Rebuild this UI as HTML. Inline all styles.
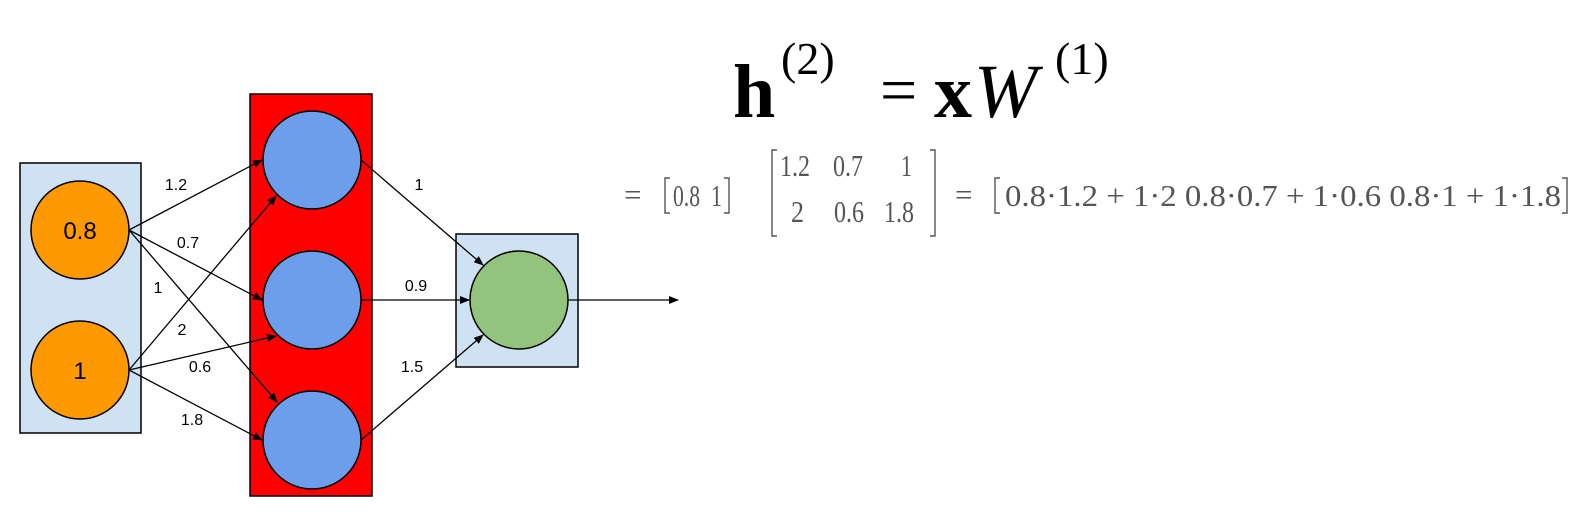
<!DOCTYPE html>
<html><head><meta charset="utf-8"><style>
html,body{margin:0;padding:0;background:#fff;width:1583px;height:520px;overflow:hidden}
svg{display:block}
.lbl{font-family:"Liberation Sans",Arial,sans-serif;font-size:16px;fill:#000}
.m{font-family:"Liberation Serif",serif;fill:#555;font-size:31px}
.t{font-family:"Liberation Serif",serif;fill:#000}
</style></head><body>
<svg width="1583" height="520" viewBox="0 0 1583 520">
<defs><marker id="ah" markerWidth="10" markerHeight="8" refX="9" refY="4" orient="auto" markerUnits="userSpaceOnUse"><path d="M0,0 L10,4 L0,8 z" fill="#000"/></marker></defs>
<rect x="20" y="163" width="121" height="270" fill="#cfe2f3" stroke="#000" stroke-width="1.5"/>
<rect x="250" y="94" width="122" height="402" fill="#ff0000" stroke="#000" stroke-width="1.5"/>
<rect x="456" y="234" width="122" height="133" fill="#cfe2f3" stroke="#000" stroke-width="1.5"/>
<g stroke="#000" stroke-width="1.3" marker-end="url(#ah)">
<line x1="129" y1="230" x2="262" y2="160"/>
<line x1="129" y1="230" x2="262" y2="300"/>
<line x1="129" y1="230" x2="277" y2="402"/>
<line x1="129" y1="370" x2="276" y2="196"/>
<line x1="129" y1="370" x2="276" y2="336"/>
<line x1="129" y1="370" x2="262" y2="440"/>
<line x1="361" y1="160" x2="483" y2="265"/>
<line x1="361" y1="300" x2="469" y2="300"/>
<line x1="361" y1="440" x2="483" y2="335"/>
<line x1="568" y1="300" x2="678" y2="300"/>
</g>
<g stroke="#000" stroke-width="1.5">
<circle cx="80" cy="230" r="49" fill="#ff9900"/>
<circle cx="80" cy="370" r="49" fill="#ff9900"/>
<circle cx="312" cy="160" r="49" fill="#6d9eeb"/>
<circle cx="312" cy="300" r="49" fill="#6d9eeb"/>
<circle cx="312" cy="440" r="49" fill="#6d9eeb"/>
<circle cx="519" cy="300" r="49" fill="#93c47d"/>
</g>
<text class="lbl" x="80" y="239" text-anchor="middle" style="font-size:24px">0.8</text>
<text class="lbl" x="80" y="379" text-anchor="middle" style="font-size:24px">1</text>
<g class="lbl" text-anchor="middle">
<text x="176" y="190">1.2</text>
<text x="188" y="248">0.7</text>
<text x="158" y="293">1</text>
<text x="182" y="335">2</text>
<text x="200" y="372">0.6</text>
<text x="192" y="425">1.8</text>
<text x="419" y="190">1</text>
<text x="416" y="291">0.9</text>
<text x="412" y="372">1.5</text>
</g>
<g>
<text class="t" x="733" y="117" style="font-size:76px;font-weight:bold">h</text>
<text class="t" x="781" y="74" style="font-size:46px">(2)</text>
<text class="t" x="880" y="112" style="font-size:66px">=</text>
<text class="t" x="934" y="117" style="font-size:76px;font-weight:bold">x</text>
<text class="t" x="974" y="117" style="font-size:76px;font-style:italic">W</text>
<text class="t" x="1055" y="74" style="font-size:46px">(1)</text>
</g>
<g>
<text class="m" x="624" y="205">=</text>
<path d="M670,178 h-5 v35 h5" fill="none" stroke="#555" stroke-width="1.4"/>
<text class="m" x="673" y="206" textLength="27" lengthAdjust="spacingAndGlyphs">0.8</text>
<text class="m" x="711" y="206" textLength="11" lengthAdjust="spacingAndGlyphs">1</text>
<path d="M724,178 h5 v35 h-5" fill="none" stroke="#555" stroke-width="1.4"/>
<path d="M777,150 h-5 v86 h5" fill="none" stroke="#555" stroke-width="1.4"/>
<text class="m" x="780" y="176" textLength="30" lengthAdjust="spacingAndGlyphs">1.2</text>
<text class="m" x="833" y="176" textLength="30" lengthAdjust="spacingAndGlyphs">0.7</text>
<text class="m" x="901" y="176" textLength="11" lengthAdjust="spacingAndGlyphs">1</text>
<text class="m" x="791" y="222" textLength="13" lengthAdjust="spacingAndGlyphs">2</text>
<text class="m" x="834" y="222" textLength="30" lengthAdjust="spacingAndGlyphs">0.6</text>
<text class="m" x="884" y="222" textLength="30" lengthAdjust="spacingAndGlyphs">1.8</text>
<path d="M930,150 h5 v86 h-5" fill="none" stroke="#555" stroke-width="1.4"/>
<text class="m" x="955" y="205">=</text>
<path d="M1000,178 h-5 v35 h5" fill="none" stroke="#555" stroke-width="1.4"/>
<text class="m" x="1005" y="206" textLength="556" lengthAdjust="spacingAndGlyphs">0.8·1.2 + 1·2  0.8·0.7 + 1·0.6  0.8·1 + 1·1.8</text>
<path d="M1562,178 h5 v35 h-5" fill="none" stroke="#555" stroke-width="1.4"/>
</g>
</svg>
</body></html>
